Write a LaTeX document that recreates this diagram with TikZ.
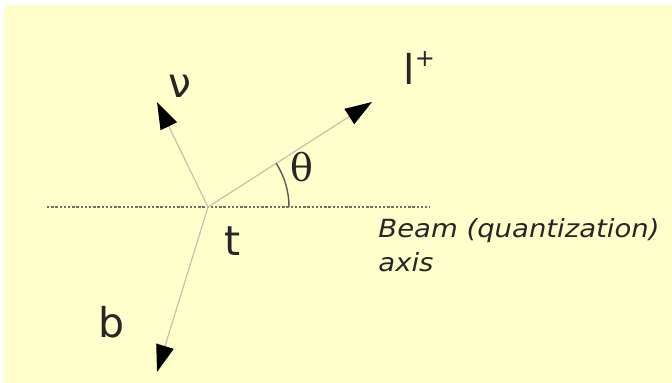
\documentclass[tikz,border=0pt]{standalone}
\usepackage{fontspec}
\usetikzlibrary{arrows.meta}
\newfontfamily\labfont{DejaVu Sans}
\newfontfamily\beamfont[FakeStretch=1.1]{DejaVu Sans Oblique}
\newfontfamily\greekfont{DejaVu Serif}
\definecolor{bgyellow}{RGB}{255,255,204}
\definecolor{shaft}{RGB}{195,195,172}
\definecolor{axisgray}{RGB}{110,110,100}
\tikzset{
  px/.style={x=0.5pt,y=-0.5pt},
  vec/.style={draw=shaft,line width=0.6pt,-{Triangle[length=13.5pt,width=9pt,black]}},
  beamaxis/.style={draw=axisgray,line width=0.6pt,dash pattern=on 1.2pt off 0.9pt},
  lab/.style={inner sep=0pt,text=black!85,font=\labfont\fontsize{20.5}{24}\selectfont},
  greek/.style={inner sep=0pt,text=black!85,font=\greekfont\fontsize{19}{22}\selectfont},
  beamtxt/.style={inner sep=0pt,text=black!85,align=left,font=\beamfont\fontsize{12.5}{17}\selectfont}
}
\begin{document}
\begin{tikzpicture}[px]
\useasboundingbox (0,0) rectangle (672,383);
\fill[bgyellow] (4,5) rectangle (672,383);
\coordinate (O) at (208,207);
\coordinate (ltip) at (372,102);
\coordinate (nutip) at (157,102);
\coordinate (btip) at (157,372);
\coordinate (axL) at (47,207);
\coordinate (axR) at (430,207);
\draw[beamaxis] (axL) -- (axR);
\draw[vec] (O) -- (ltip);
\draw[vec] (O) -- (nutip);
\draw[vec] (O) -- (btip);
\draw[draw=axisgray!80!black,line width=0.7pt] ([shift={(0:81)}]O) arc[start angle=0,end angle=-32.6,radius=81];
\node[lab] (nu) at (180,86) {ν};
\node[lab,anchor=base west] (lplus) at (403,85) {l\raisebox{0.45em}{\fontsize{12}{14}\selectfont +}};
\node[greek] (theta) at (302,167) {θ};
\node[lab] (t) at (233,241) {t};
\node[lab] (b) at (112,322) {b};
\node[beamtxt,anchor=base west] (beam) at (378,272) {Beam (quantization)\\axis};
\end{tikzpicture}
\end{document}
